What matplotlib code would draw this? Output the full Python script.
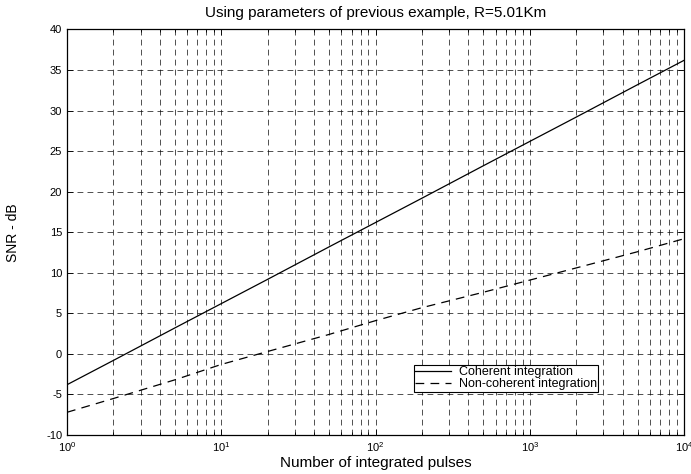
import numpy as np
import matplotlib
matplotlib.use("Agg")
import matplotlib.pyplot as plt
from matplotlib.ticker import LogLocator, NullFormatter, MultipleLocator

plt.rcParams['font.family'] = ['Liberation Sans', 'DejaVu Sans']
plt.rcParams['axes.unicode_minus'] = False

# Number of integrated pulses and the resulting SNR (dB)
pulses = [1, 2, 5, 10, 20, 50, 100, 200, 500, 1000, 2000, 5000, 10000]
snr_coherent = [-3.8, -0.8, 3.2, 6.2, 9.2, 13.2, 16.2, 19.2, 23.2, 26.2, 29.2, 33.2, 36.2]
snr_noncoherent = [-7.2, -5.5, -3.2, -1.3, 0.3, 2.4, 4.1, 5.7, 7.6, 9.1, 10.6, 12.6, 14.2]

title = "Using parameters of previous example, R=5.01Km"
xlabel = "Number of integrated pulses"
ylabel = "SNR - dB"
legend_labels = ["Coherent integration", "Non-coherent integration"]

fig = plt.figure(figsize=(6.91, 4.74), dpi=100)
ax = fig.add_axes([0.097, 0.0823, 0.893, 0.8555])

ax.semilogx(pulses, snr_coherent, color='black', lw=0.9, label=legend_labels[0])
ax.semilogx(pulses, snr_noncoherent, color='black', lw=0.9, dashes=(7, 5),
            label=legend_labels[1])

ax.set_xlim(1, 1e4)
ax.set_ylim(-10, 40)
ax.yaxis.set_major_locator(MultipleLocator(5))
ax.xaxis.set_major_locator(LogLocator(base=10, numticks=10))
ax.xaxis.set_minor_locator(LogLocator(base=10, subs=np.arange(2, 10), numticks=20))
ax.xaxis.set_minor_formatter(NullFormatter())

grid_kw = dict(color='black', lw=0.6, dashes=(7, 5), alpha=0.8)
ax.grid(True, which='major', axis='both', **grid_kw)
ax.grid(True, which='minor', axis='x', **grid_kw)

ax.tick_params(which='both', direction='in', top=True, right=True,
               labelsize=8, width=0.6)
ax.tick_params(which='major', length=4)
ax.tick_params(which='minor', length=2.5)
for s in ax.spines.values():
    s.set_linewidth(0.9)

ax.set_title(title, fontsize=11, pad=9)
ax.set_xlabel(xlabel, fontsize=11, labelpad=2)
ax.set_ylabel(ylabel, fontsize=10, labelpad=19)

leg = ax.legend(loc='upper left', bbox_to_anchor=(0.562, 0.172), fontsize=9,
                frameon=True, fancybox=False, edgecolor='black', framealpha=1,
                handlelength=2.9, handletextpad=0.6, borderpad=0.1,
                labelspacing=0.0, borderaxespad=0)
leg.get_frame().set_linewidth(0.8)

fig.savefig("out.png", dpi=100)
